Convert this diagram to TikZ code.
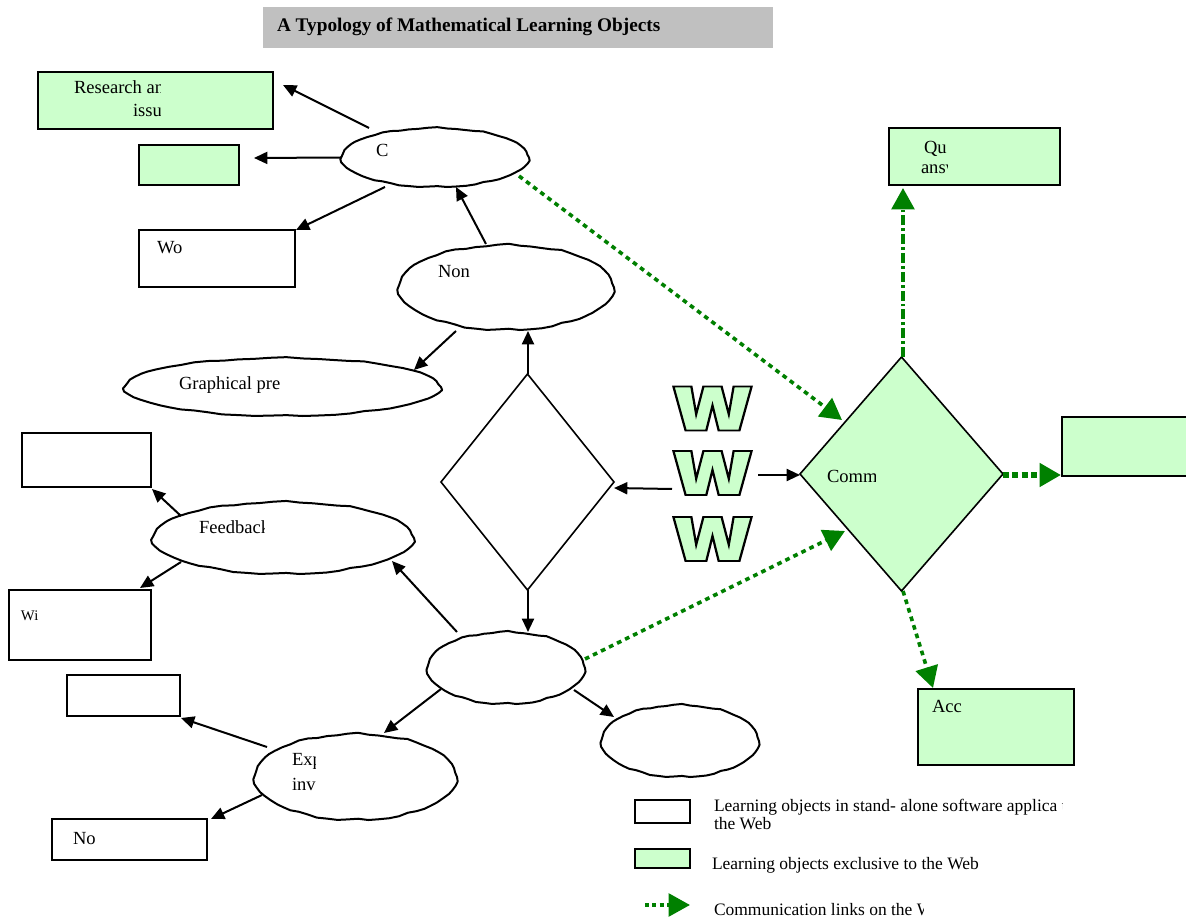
\documentclass[tikz,border=0pt]{standalone}
\usepackage{fontspec}
\usepackage{graphicx}
\setmainfont{Liberation Serif}
\font\wglyph="Poppins Black:embolden=3" at 40pt
\usetikzlibrary{shapes.geometric,arrows.meta}
\definecolor{webgreen}{HTML}{CCFFCC}
\definecolor{linkgreen}{HTML}{008000}
\definecolor{titlegray}{HTML}{C0C0C0}
\tikzset{
  x=0.75pt,y=-0.75pt,
  base/.style={draw=black,line width=1.5pt,inner sep=0pt,outer sep=0pt},
  plainbox/.style={base,rectangle,fill=white},
  greenbox/.style={base,rectangle,fill=webgreen},
  blob/.style={ellipse,inner sep=0pt,outer sep=0pt},
  rhombus/.style={base,diamond,line width=1.2pt},
  label/.style={anchor=base west,inner sep=0pt,outer sep=0pt,font=\fontsize{13.9}{16}\selectfont,text=black},
  legendtext/.style={label,font=\fontsize{13.1}{14}\selectfont},
  arr/.style={line width=1.5pt,-{Triangle[length=10pt,width=9pt,sep=0pt]}},
  link/.style={draw=linkgreen,line width=2.7pt,dash pattern=on 3.5pt off 3.2pt,-{Triangle[length=16pt,width=17pt,sep=0pt,fill=linkgreen]}},
  linkdd/.style={link,line width=2.6pt,dash pattern=on 7.5pt off 2.2pt on 2.2pt off 2.2pt},
  linkbar/.style={link,line width=4pt,dash pattern=on 4.5pt off 2.5pt},
}
% wavy outline of an ellipse node: name, half width, half height
\newcommand{\wavy}[3]{\draw[black,line width=1.5pt,fill=white,line join=round,shift={(#1.center)}] plot[samples=61,domain=0:354,variable=\t]
  ({#2*cos(\t)*(1+0.010*sin(7*\t)+0.006*sin(17*\t))},{#3*sin(\t)*(1+0.020*sin(11*\t)+0.012*sin(23*\t))}) -- cycle;}
\newcommand{\wword}{\resizebox{62pt}{33pt}{\color{webgreen}\special{pdf:code 0 0 0 RG}\wglyph W}}
% clipped label: name, x, baseline y, right clip edge, text
\newcommand{\cutlabel}[6][label]{\begin{scope}\clip (#3-5,#4-30) rectangle (#5,#4+12);\node[#1] (#2) at (#3,#4) {#6};\end{scope}}
\begin{document}
\begin{tikzpicture}
\useasboundingbox (0,0) rectangle (1186,919);
\clip (0,0) rectangle (1186,919);
\fill[white] (0,0) rectangle (1186,919);
% title
\node[rectangle,fill=titlegray,inner sep=0pt,minimum width=382.5pt,minimum height=30.75pt] (title) at (518,27.5) {};
\node[label,font=\fontsize{14.45}{16}\selectfont\bfseries] (titletext) at (277,32) {A Typology of Mathematical Learning Objects};
% boxes
\node[greenbox,minimum width=176pt,minimum height=42.5pt] (R1) at (155.5,100.5) {};
\node[greenbox,minimum width=75pt,minimum height=30pt] (R2) at (189,165) {};
\node[plainbox,minimum width=117pt,minimum height=42.5pt] (R3) at (217,258.5) {};
\node[plainbox,minimum width=96.5pt,minimum height=40.5pt] (TB) at (86.5,460) {};
\node[plainbox,minimum width=106.5pt,minimum height=52.5pt] (Wi) at (80,625) {};
\node[plainbox,minimum width=84.5pt,minimum height=30.5pt] (SB) at (123.5,695.5) {};
\node[plainbox,minimum width=116pt,minimum height=30.5pt] (No) at (129.5,839.5) {};
\node[greenbox,minimum width=128pt,minimum height=42.5pt] (Q) at (974.5,156.5) {};
\node[greenbox,minimum width=103.5pt,minimum height=44.5pt] (RB) at (1131,446.5) {};
\node[greenbox,minimum width=117pt,minimum height=57pt] (Acc) at (996,727) {};
% ellipses
\node[blob,minimum width=141pt,minimum height=44pt] (C) at (435,157.5) {};
\node[blob,minimum width=162pt,minimum height=64pt] (Non) at (506,287.5) {};
\node[blob,minimum width=238pt,minimum height=43pt] (Gr) at (282.5,387) {};
\node[blob,minimum width=196pt,minimum height=54pt] (Fb) at (283,538) {};
\node[blob,minimum width=118pt,minimum height=54pt] (Bo) at (506,668) {};
\node[blob,minimum width=118pt,minimum height=54pt] (RE) at (680,741) {};
\node[blob,minimum width=152pt,minimum height=64pt] (Ex) at (355.5,777) {};
\wavy{C}{94}{29.5}
\wavy{Non}{108}{42.5}
\wavy{Gr}{158.5}{29}
\wavy{Fb}{131}{36}
\wavy{Bo}{79}{36}
\wavy{RE}{79}{36}
\wavy{Ex}{101.5}{43}
% diamonds
\node[rhombus,fill=white,minimum width=129.75pt,minimum height=162pt,aspect=0.8] (D) at (527.5,482) {};
\node[rhombus,fill=webgreen,minimum width=152.25pt,minimum height=175.5pt,aspect=0.87] (GD) at (901.5,474) {};
% W
\node[inner sep=0pt,outer sep=0pt] (w1) at (712.5,408.5) {\wword};
\node[inner sep=0pt,outer sep=0pt] (w2) at (712.5,473) {\wword};
\node[inner sep=0pt,outer sep=0pt] (w3) at (712.5,539) {\wword};
% labels
\cutlabel{t1}{74}{94}{160}{Research an}
\cutlabel{t2}{133}{117}{160}{issu}
\cutlabel{t3}{157}{254}{182}{Wo}
\cutlabel{t4}{376}{157}{390}{C}
\node[label] (t5) at (438,278) {Non};
\node[label] (t6) at (179,390) {Graphical pre};
\cutlabel{t7}{199}{534}{264}{Feedback}
\cutlabel[label,font=\fontsize{11}{12}\selectfont]{t8}{21}{621}{39}{Wi}
\cutlabel{t9}{292}{765}{315}{Exp}
\cutlabel{t10}{292}{790}{315}{inv}
\cutlabel{t11}{73}{844}{94}{No}
\cutlabel{t12}{924}{154}{947}{Qu}
\cutlabel{t13}{921}{174}{947}{answ}
\cutlabel{t14}{827}{483}{875}{Comm}
\node[label] (t15) at (932,713) {Acc};
% connectors
\draw[arr] ([shift={(-66,-29.5)}]C.center) -- ([shift={(127.5,-15.5)}]R1.center);
\draw[arr] ([shift={(-94,0)}]C.center) -- ([shift={(65,-7)}]R2.center);
\draw[arr] ([shift={(-50,29.5)}]C.center) -- ([shift={(79,-28.5)}]R3.center);
\draw[arr] ([shift={(-20,-43.5)}]Non.center) -- ([shift={(21,29.5)}]C.center);
\draw[arr] ([shift={(-50,43.5)}]Non.center) -- ([shift={(131.5,-17)}]Gr.center);
\draw[arr] ([shift={(0.5,-108)}]D.center) -- ([shift={(22,43.5)}]Non.center);
\draw[arr] ([shift={(-40.5,16)}]w2.center) -- ([shift={(86.5,6)}]D.center);
\draw[arr] ([shift={(45.5,2)}]w2.center) -- ([shift={(-101.5,1)}]GD.center);
\draw[arr] ([shift={(0.5,108)}]D.center) -- ([shift={(22,-36)}]Bo.center);
\draw[arr] ([shift={(-49,-36)}]Bo.center) -- ([shift={(109,23)}]Fb.center);
\draw[arr] ([shift={(-102,-22)}]Fb.center) -- ([shift={(65.5,29)}]TB.center);
\draw[arr] ([shift={(-102,24)}]Fb.center) -- ([shift={(60,-37)}]Wi.center);
\draw[arr] ([shift={(-65,21)}]Bo.center) -- ([shift={(28.5,-44)}]Ex.center);
\draw[arr] ([shift={(68,22)}]Bo.center) -- ([shift={(-66,-24)}]RE.center);
\draw[arr] ([shift={(-88.5,-30)}]Ex.center) -- ([shift={(57.5,22.5)}]SB.center);
\draw[arr] ([shift={(-93.5,18)}]Ex.center) -- ([shift={(81.5,-20.5)}]No.center);
% web links
\draw[link] ([shift={(84,18.5)}]C.center) -- ([shift={(-59.5,-54)}]GD.center);
\draw[link] ([shift={(79,-9)}]Bo.center) -- ([shift={(-56.5,57)}]GD.center);
\draw[linkdd] ([shift={(1.5,-117)}]GD.center) -- ([shift={(-71.5,31.5)}]Q.center);
\draw[linkbar] ([shift={(101.5,1)}]GD.center) -- ([shift={(-70,28.5)}]RB.center);
\draw[link] ([shift={(1.5,117)}]GD.center) -- ([shift={(-63,-39)}]Acc.center);
% legend
\node[plainbox,minimum width=41.25pt,minimum height=17.25pt] (L1) at (662.5,811.5) {};
\node[greenbox,minimum width=41.25pt,minimum height=14.25pt] (L2) at (662.5,858.5) {};
\coordinate (L3a) at (645,905);
\coordinate (L3b) at (690,905);
\draw[link,dash pattern=on 3pt off 2.5pt,line width=2.6pt] (L3a) -- (L3b);
\cutlabel[legendtext]{t16}{714}{811}{1062}{Learning objects in stand- alone software applica t}
\node[legendtext] (t17) at (714,829) {the Web};
\node[legendtext] (t18) at (712,869) {Learning objects exclusive to the Web};
\cutlabel[legendtext]{t19}{714}{915}{923}{Communication links on the W}
\end{tikzpicture}
\end{document}
